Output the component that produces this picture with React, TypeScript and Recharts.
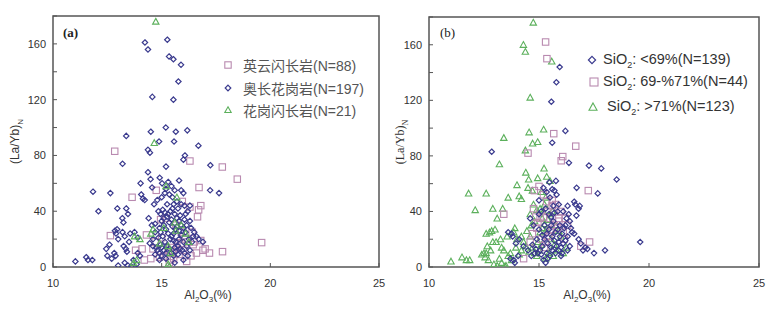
import React from 'react';
import { ScatterChart, Scatter, XAxis, YAxis, ReferenceArea, Label } from 'recharts';

// panel (a) by rock type
const tonalite: [number, number][] = [
  [12.84, 83], [16.3, 76], [17.79, 71.7], [18.48, 63], [16.72, 57], [13.64, 50], [14.75, 55], [12.64, 22.5],
  [19.6, 17.5], [17.8, 11], [17.2, 10], [17.0, 13], [16.9, 12], [16.8, 19], [16.7, 41], [16.8, 44], [16.65, 36],
  [16.3, 43], [16.4, 25], [16.5, 18], [16.2, 18], [16.1, 20], [15.9, 17], [15.7, 15], [15.5, 10], [15.55, 6],
  [15.4, 5], [15.3, 12], [15.1, 8], [14.9, 7], [14.5, 6], [14.2, 5], [14.1, 13], [13.8, 12], [14.6, 13],
  [15.0, 21], [15.2, 35], [14.95, 34], [15.7, 22], [15.9, 25], [16.0, 12], [16.6, 10], [16.35, 8], [15.45, 14],
  [15.65, 30], [14.3, 23], [14.7, 18], [15.8, 9], [16.15, 4], [15.35, 3], [16.45, 16], [15.95, 47],
];
const trondhjemite: [number, number][] = [
  [14.23, 161], [14.37, 156], [15.26, 163], [15.34, 151], [15.54, 149], [15.89, 145], [15.77, 133], [14.57, 122],
  [15.54, 120], [14.5, 97], [15.19, 100], [15.65, 97], [16.18, 98], [14.88, 90], [15.57, 90], [13.37, 94],
  [16.69, 87], [14.37, 84], [14.46, 82], [16.07, 80], [16.0, 77], [13.2, 74], [17.24, 73], [15.2, 72],
  [14.37, 68], [14.49, 63], [14.91, 64], [14.03, 60], [14.56, 57], [15.02, 60], [11.84, 54], [12.64, 53],
  [17.23, 55], [17.64, 53], [14.06, 52], [14.14, 49], [14.22, 48], [12.09, 40], [12.96, 42], [13.37, 42],
  [13.45, 38], [13.19, 35], [13.24, 32],
  [12.85, 26], [12.95, 27], [12.9, 24], [13.2, 25], [13.55, 24], [13.0, 20], [13.3, 22], [13.75, 25],
  [13.5, 18], [13.9, 21], [12.45, 13], [12.6, 16], [12.82, 10], [12.88, 8], [12.5, 8], [12.7, 6], [13.35, 13],
  [13.4, 11], [13.25, 15], [11.03, 4], [11.53, 7], [11.61, 5], [11.81, 5], [13.0, 1], [13.3, 3], [13.45, 1],
  [13.6, 0.5], [13.85, 2], [13.9, 10], [14.0, 8], [13.7, 5],
  [15.3, 61], [15.45, 58], [15.6, 55], [15.8, 62], [15.9, 55], [16.0, 53], [15.2, 56], [15.35, 52], [15.5, 50],
  [15.7, 47], [15.9, 45], [16.05, 44], [16.3, 44], [16.1, 38], [16.3, 33], [16.35, 28], [16.5, 25], [16.6, 22],
  [16.9, 18], [16.7, 20], [14.4, 35], [14.55, 30], [14.7, 25], [14.6, 20], [14.45, 17], [14.75, 14], [14.8, 12],
  [14.9, 10], [15.0, 8], [14.85, 40], [14.95, 38], [15.05, 41], [15.15, 39], [15.25, 36], [15.4, 40], [15.5, 42],
  [15.6, 38], [15.7, 35], [15.8, 33], [15.9, 30], [16.0, 28], [16.1, 25], [15.0, 33], [15.1, 30], [15.2, 27],
  [15.3, 24], [15.45, 22], [15.55, 19], [15.65, 18], [15.75, 15], [15.85, 13], [15.95, 12], [16.05, 10],
  [16.2, 8], [14.9, 28], [15.05, 22], [15.15, 18], [15.25, 15], [15.35, 13], [15.1, 12], [14.95, 16],
  [15.45, 10], [15.55, 8], [15.65, 11], [15.8, 20], [15.9, 23], [16.0, 18], [16.15, 15], [16.3, 12],
  [14.65, 45], [14.8, 48], [15.0, 50], [15.15, 53], [15.55, 45], [15.75, 42], [16.2, 40], [15.35, 32],
  [15.5, 29], [15.65, 27], [15.8, 26], [16.25, 20], [14.7, 9], [14.9, 5], [15.6, 3], [15.2, 6], [16.0, 5],
  [14.85, 21], [15.0, 14], [15.2, 10], [15.4, 20], [15.55, 24], [15.7, 29], [15.85, 37], [16.05, 34],
  [16.15, 30], [15.3, 38], [15.1, 35], [14.95, 25], [15.6, 14], [15.75, 9], [16.4, 18], [16.45, 22],
  [14.6, 15], [14.7, 31], [15.25, 45], [15.45, 34],
];
const granodiorite: [number, number][] = [
  [14.73, 176], [14.66, 89], [15.2, 58], [15.7, 50], [15.6, 32], [14.6, 27], [14.5, 24], [14.0, 20], [13.75, 22],
  [13.7, 3], [13.85, 5], [15.3, 2], [15.35, 0.5], [15.4, 10], [15.1, 28], [15.3, 15], [15.65, 26], [16.25, 18],
  [16.1, 24], [14.9, 17], [15.9, 30],
];

// panel (b) by SiO2 content
const siLow: [number, number][] = [
  [15.94, 144], [15.79, 133], [15.56, 119], [16.2, 98], [15.6, 89.5], [12.85, 83], [16.36, 75], [17.27, 73],
  [17.83, 71], [18.53, 63], [15.47, 61], [15.77, 62], [16.71, 57], [17.67, 53], [19.6, 18], [18.0, 12],
  [17.5, 10], [17.2, 13], [17.0, 12], [16.8, 20], [16.7, 37], [16.65, 45], [16.8, 42], [16.85, 44], [16.6, 47],
  [16.3, 44], [16.35, 38], [16.4, 33], [16.45, 28], [16.5, 25], [16.3, 22], [16.2, 19], [16.1, 17], [16.0, 8],
  [16.05, 10], [15.9, 45], [15.8, 52], [15.7, 55], [15.6, 56], [15.5, 50], [15.35, 54], [15.2, 57], [15.95, 30],
  [15.85, 27], [15.75, 25], [15.65, 33], [15.55, 30], [15.45, 27], [15.35, 24], [15.25, 20], [15.15, 15],
  [15.05, 12], [14.95, 10], [14.85, 13], [14.7, 16], [14.6, 35], [14.75, 30], [15.0, 38], [15.1, 40], [15.3, 42],
  [15.45, 38], [15.6, 22], [15.7, 19], [15.8, 15], [15.9, 12], [15.5, 8], [15.4, 6], [15.3, 3], [15.2, 5],
  [15.1, 9], [14.5, 12], [14.3, 15], [14.1, 20], [13.8, 22], [13.6, 25], [13.75, 24], [13.95, 17], [13.85, 5],
  [13.9, 3], [13.7, 6], [14.05, 8], [16.15, 28], [16.25, 35], [16.6, 24], [16.9, 17], [17.1, 14], [15.95, 22],
  [16.1, 40], [15.65, 44], [15.85, 40], [15.25, 30], [15.0, 27], [14.9, 20], [15.15, 23], [15.4, 17],
  [15.55, 14], [16.3, 12], [16.4, 15], [15.75, 10], [14.8, 10], [14.65, 8], [15.0, 48],
  [15.9, 18], [16.05, 24], [16.2, 30], [15.7, 39], [15.55, 36], [15.35, 10], [15.6, 12], [16.0, 14],
];
const siMid: [number, number][] = [
  [15.3, 162], [15.36, 150], [15.67, 96], [16.67, 87], [14.5, 82], [16.08, 79.5], [16.01, 76.5], [14.79, 55],
  [17.24, 55], [15.0, 58], [15.2, 52], [15.35, 47], [15.6, 44], [15.75, 45], [15.4, 40], [15.2, 36], [15.05, 35],
  [14.75, 42], [13.4, 38], [14.3, 6], [15.9, 33], [16.0, 40], [16.2, 35], [15.85, 28], [15.55, 27], [15.45, 22],
  [15.3, 18], [15.1, 20], [14.9, 28], [14.7, 24], [14.6, 18], [17.3, 18], [16.9, 15], [15.7, 30], [15.5, 25],
  [16.1, 25], [15.25, 14], [16.3, 30], [14.85, 36], [15.6, 48], [15.9, 35], [16.15, 20], [14.95, 32], [15.5, 35],
];
const siHigh: [number, number][] = [
  [14.74, 176], [14.29, 160], [14.38, 155], [15.58, 148], [14.6, 122], [15.21, 99], [14.55, 97], [13.4, 93],
  [14.71, 89], [14.94, 90], [14.38, 84], [15.23, 71], [14.4, 68], [14.53, 63], [14.94, 64], [15.35, 65],
  [13.2, 74], [11.8, 53], [12.6, 53], [12.1, 41], [12.9, 42], [13.35, 42], [13.1, 35], [13.6, 50], [14.0, 59],
  [14.1, 51], [14.2, 49], [14.5, 57], [14.7, 55], [15.1, 54], [15.3, 50], [15.5, 62],
  [11.0, 4], [11.5, 7], [11.7, 5], [11.85, 5], [12.5, 10], [12.65, 15], [12.55, 7], [12.8, 12], [12.7, 5],
  [12.9, 18], [12.95, 2], [13.1, 1], [13.3, 3], [13.45, 0.5], [13.5, 1], [13.25, 20], [13.3, 14], [13.4, 12],
  [13.6, 8], [13.7, 10], [13.75, 5], [12.6, 24], [12.85, 26], [13.0, 27], [12.75, 25], [13.55, 22], [13.85, 25],
  [13.9, 28], [14.0, 20], [14.2, 22], [14.3, 18], [14.45, 26], [14.6, 22], [14.7, 14], [14.8, 10], [14.9, 8],
  [15.0, 12], [15.1, 16], [14.55, 11], [14.95, 18], [15.05, 25], [15.15, 28], [15.25, 31], [15.4, 34],
  [15.5, 38], [15.6, 40], [15.2, 40], [15.05, 42], [14.9, 41], [14.8, 33], [14.65, 30], [14.6, 38], [15.35, 27],
  [15.55, 20], [15.7, 16], [15.8, 12], [15.65, 8], [15.45, 10], [15.3, 6], [15.9, 26], [16.0, 22], [16.25, 14],
  [16.1, 10], [15.75, 30], [14.4, 15], [14.1, 9], [14.2, 12], [13.95, 14], [15.25, 45], [15.15, 35], [14.75, 45],
  [12.6, 10], [12.4, 9], [13.05, 18], [13.2, 6],
];

const xTicks = [10, 15, 20, 25];
const yTicks = [0, 20, 40, 60, 80, 100, 120, 140, 160, 180];
const yLabeled = [0, 40, 80, 120, 160];

const NAVY = '#3a3a8e';
const PINK = '#b98ab0';
const GREEN = '#5cb05c';
const AXIS = '#555';
const SANS = '"Liberation Sans", Arial, sans-serif';

const toPts = (arr: [number, number][]) => arr.map(([x, y]) => ({ x, y }));

const Diamond = ({ cx, cy, r = 2.7 }: any) => (
  <path d={`M${cx},${cy - r}L${cx + r},${cy}L${cx},${cy + r}L${cx - r},${cy}Z`} fill="none" stroke={NAVY} strokeWidth={1.2} />
);
const Square = ({ cx, cy, s = 3.2 }: any) => (
  <rect x={cx - s} y={cy - s} width={s * 2} height={s * 2} fill="none" stroke={PINK} strokeWidth={1.1} />
);
const Triangle = ({ cx, cy, s = 3.2 }: any) => (
  <path d={`M${cx},${cy - s}L${cx + s},${cy + s * 0.8}L${cx - s},${cy + s * 0.8}Z`} fill="none" stroke={GREEN} strokeWidth={1.1} />
);

const YTick = ({ x, y, payload }: any) => (
  <g>
    <line x1={x + 7} x2={x + 11} y1={y} y2={y} stroke={AXIS} />
    {yLabeled.includes(payload.value) && (
      <text x={x} y={y} dy={4} textAnchor="end" fontSize={11} fill="#333" fontFamily={SANS}>{payload.value}</text>
    )}
  </g>
);
const XTick = ({ x, y, payload }: any) => (
  <g>
    <line x1={x} x2={x} y1={y - 8} y2={y - 12} stroke={AXIS} />
    <text x={x} y={y} dy={12} textAnchor="middle" fontSize={11} fill="#333" fontFamily={SANS}>{payload.value}</text>
  </g>
);

const xLabel = (dx: number) => ({ viewBox }: any) => {
  const cx = viewBox.x + viewBox.width / 2 + dx;
  return (
    <text x={cx} y={viewBox.y + 32} textAnchor="middle" fontSize={12} fill="#333" fontFamily={SANS}>
      Al<tspan dy={3} fontSize={8}>2</tspan><tspan dy={-3}>O</tspan><tspan dy={3} fontSize={8}>3</tspan><tspan dy={-3}>(%)</tspan>
    </text>
  );
};
const yLabel = (lx: number, serif: boolean) => ({ viewBox }: any) => {
  const cy = viewBox.y + viewBox.height / 2;
  return (
    <text x={lx} y={cy} transform={`rotate(-90 ${lx} ${cy})`} textAnchor="middle" dy={4} fontSize={12} fill="#333"
      fontFamily={serif ? '"Liberation Serif", serif' : SANS}>
      (La/Yb)<tspan dy={4} fontSize={8}>N</tspan>
    </text>
  );
};

function Panel({ width, left, top, right, series, lx, dx, serif }: any) {
  return (
    <ScatterChart width={width} height={309} margin={{ top, right, bottom: 0, left: 0 }}>
      <XAxis type="number" dataKey="x" domain={[10, 25]} ticks={xTicks} tick={<XTick />} tickLine={false}
        tickSize={0} tickMargin={8} height={42} axisLine={false} allowDataOverflow>
        <Label content={xLabel(dx)} />
      </XAxis>
      <YAxis type="number" dataKey="y" domain={[0, 180]} ticks={yTicks} tick={<YTick />} tickLine={false}
        tickSize={0} tickMargin={7} width={left} axisLine={false} interval={0} allowDataOverflow>
        <Label content={yLabel(lx, serif)} />
      </YAxis>
      <ReferenceArea x1={10} x2={25} y1={0} y2={180} fill="none" stroke={AXIS} strokeWidth={1.5} />
      {series.map((s: any, i: number) => (
        <Scatter key={i} data={toPts(s.data)} shape={s.shape} isAnimationActive={false} />
      ))}
    </ScatterChart>
  );
}

const legendRow = (marker: React.ReactNode, label: React.ReactNode, top: number, left: number, textLeft: number, fs: number, color: string) => (
  <div style={{ position: 'absolute', top: top - 10, left: left - 6, height: 20, display: 'flex', alignItems: 'center' }}>
    <svg width={12} height={12} style={{ marginRight: textLeft - left - 6 }}>{marker}</svg>
    <span style={{ fontSize: fs, color, fontFamily: '"Liberation Sans", "Noto Sans CJK SC", sans-serif', whiteSpace: 'nowrap' }}>{label}</span>
  </div>
);

export default function App() {
  return (
    <div style={{ position: 'relative', width: 775, height: 309, background: '#fff', overflow: 'hidden' }}>
      <style>{'body{margin:0}'}</style>
      <div style={{ position: 'absolute', left: 0, top: 0 }}>
        <Panel width={390} left={53} top={16} right={11} lx={15} dx={-8} serif={false}
          series={[
            { data: tonalite, shape: (p: any) => <Square {...p} /> },
            { data: trondhjemite, shape: (p: any) => <Diamond {...p} /> },
            { data: granodiorite, shape: (p: any) => <Triangle {...p} /> },
          ]} />
      </div>
      <div style={{ position: 'absolute', left: 390, top: 0 }}>
        <Panel width={385} left={39} top={17} right={16} lx={10} dx={-7} serif={true}
          series={[
            { data: siHigh, shape: (p: any) => <Triangle {...p} /> },
            { data: siMid, shape: (p: any) => <Square {...p} /> },
            { data: siLow, shape: (p: any) => <Diamond {...p} /> },
          ]} />
      </div>
      <div style={{ position: 'absolute', left: 63, top: 25, fontFamily: '"Liberation Serif", serif', fontWeight: 'bold', fontSize: 13, color: '#222' }}>(a)</div>
      <div style={{ position: 'absolute', left: 440, top: 25, fontFamily: '"Liberation Serif", serif', fontSize: 13, color: '#222' }}>(b)</div>

      {legendRow(<Square cx={6} cy={6} s={3.2} />, '英云闪长岩(N=88)', 65, 228, 243, 14, '#555')}
      {legendRow(<Diamond cx={6} cy={6} r={2.8} />, '奥长花岗岩(N=197)', 88, 228, 243, 14, '#555')}
      {legendRow(<Triangle cx={6} cy={6} s={3.2} />, '花岗闪长岩(N=21)', 110, 228, 243, 14, '#555')}

      {legendRow(<Diamond cx={6} cy={6} r={3.6} />, <>SiO<sub style={{ fontSize: 9 }}>2</sub>: &lt;69%(N=139)</>, 60, 592, 603, 14.5, '#333')}
      {legendRow(<Square cx={6} cy={6} s={4} />, <>SiO<sub style={{ fontSize: 9 }}>2</sub>: 69-%71%(N=44)</>, 82, 594, 603, 14.5, '#333')}
      {legendRow(<Triangle cx={6} cy={6} s={4} />, <>SiO<sub style={{ fontSize: 9 }}>2</sub>: &gt;71%(N=123)</>, 107, 593, 607, 14.5, '#333')}
    </div>
  );
}
